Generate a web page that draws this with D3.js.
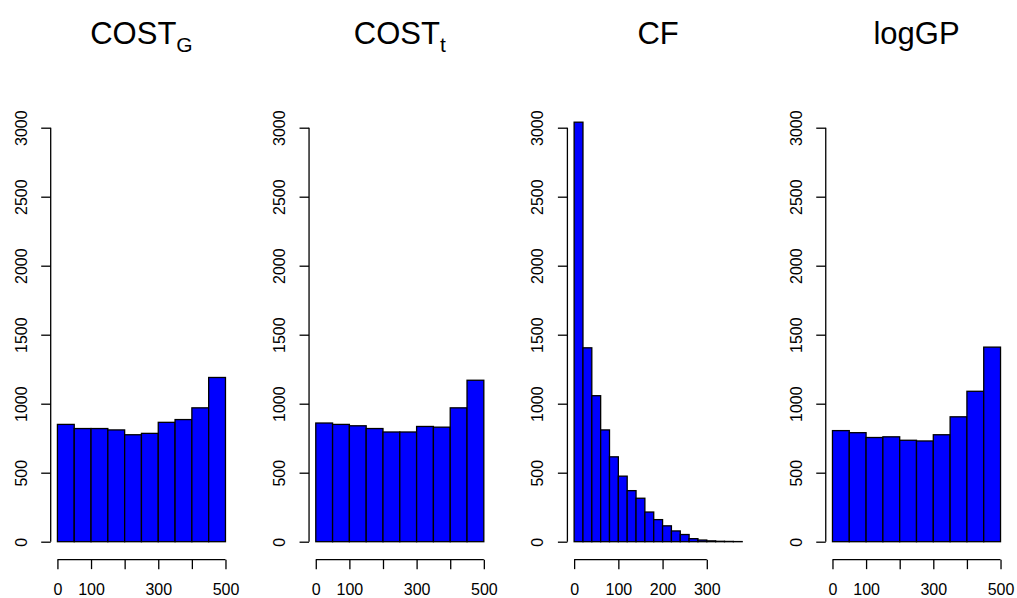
<!DOCTYPE html>
<html>
<head>
<meta charset="utf-8">
<script src="https://cdn.jsdelivr.net/npm/d3@7"></script>
<style>
  html, body { margin: 0; padding: 0; background: #fff; }
  svg { display: block; font-family: "Liberation Sans", Arial, Helvetica, sans-serif; }
</style>
</head>
<body>
<div id="chart"></div>
<script>
// histogram bin edges
const costBreaks = [0, 50, 100, 150, 200, 250, 300, 350, 400, 450, 500];
const cfBreaks = [0, 20, 40, 60, 80, 100, 120, 140, 160, 180, 200, 220, 240, 260, 280, 300, 320, 340, 360, 380];

// counts per bin
const costGCounts = [850, 820, 820, 810, 775, 785, 865, 885, 970, 1190];
const costTCounts = [860, 850, 840, 820, 795, 795, 835, 830, 970, 1170];
const cfCounts = [3040, 1405, 1058, 810, 615, 475, 370, 315, 215, 160, 115, 78, 52, 22, 12, 6, 3, 2, 1];
const logGPCounts = [805, 790, 755, 760, 735, 730, 775, 905, 1090, 1410];

// axis ticks
const costTicks = [0, 100, 200, 300, 400, 500];
const costTickLabels = ["0", "100", "", "300", "", "500"];
const cfTicks = [0, 100, 200, 300];
const cfTickLabels = ["0", "100", "200", "300"];
const yTicks = [0, 500, 1000, 1500, 2000, 2500, 3000];

const panels = [
  { title: "COST", sub: "G", breaks: costBreaks, counts: costGCounts, ticks: costTicks, labels: costTickLabels },
  { title: "COST", sub: "t", breaks: costBreaks, counts: costTCounts, ticks: costTicks, labels: costTickLabels },
  { title: "CF", sub: null, breaks: cfBreaks, counts: cfCounts, ticks: cfTicks, labels: cfTickLabels },
  { title: "logGP", sub: null, breaks: costBreaks, counts: logGPCounts, ticks: costTicks, labels: costTickLabels }
];

const width = 1017;
const height = 598;
const panelStep = 258.35;
const plotLeft0 = 50.7;
const plotWidth = 181.5;

const svg = d3.select("#chart").append("svg")
    .attr("width", width)
    .attr("height", height);

svg.append("rect").attr("width", width).attr("height", height).attr("fill", "#fff");

const y = d3.scaleLinear().domain([0, 3000]).range([541.7, 127.7]);
const axisY = y(-130);

panels.forEach((p, i) => {
  const left = plotLeft0 + i * panelStep;
  const lo = p.breaks[0], hi = p.breaks[p.breaks.length - 1];
  const pad = 0.04 * (hi - lo);
  const x = d3.scaleLinear().domain([lo - pad, hi + pad]).range([left, left + plotWidth]);

  const g = svg.append("g");

  // bars
  g.selectAll("rect.bar")
    .data(p.counts)
    .join("rect")
      .attr("class", "bar")
      .attr("x", (d, j) => x(p.breaks[j]))
      .attr("width", (d, j) => x(p.breaks[j + 1]) - x(p.breaks[j]))
      .attr("y", d => y(d))
      .attr("height", d => y(0) - y(d))
      .attr("fill", "#0000ff")
      .attr("stroke", "#000")
      .attr("stroke-width", 1.3);

  // x axis
  const xa = g.append("g")
      .attr("transform", `translate(0,${axisY})`)
      .call(d3.axisBottom(x).tickValues(p.ticks).tickSize(9.5).tickSizeOuter(0)
        .tickFormat((d, j) => p.labels[j]));
  xa.select(".domain").attr("d", `M${x(p.ticks[0])},0H${x(p.ticks[p.ticks.length - 1])}`);
  xa.selectAll("line, .domain").attr("stroke", "#000").attr("stroke-width", 1.3);
  xa.selectAll("text")
      .attr("y", 35.5).attr("dy", null)
      .attr("font-size", 16).attr("fill", "#000")
      .attr("font-family", "Liberation Sans, Arial, sans-serif");

  // y axis
  const ya = g.append("g")
      .attr("transform", `translate(${left},0)`)
      .call(d3.axisLeft(y).tickValues(yTicks).tickSize(9.5).tickSizeOuter(0).tickFormat(d3.format("d")));
  ya.select(".domain").attr("d", `M0,${y(0)}V${y(3000)}`);
  ya.selectAll("line, .domain").attr("stroke", "#000").attr("stroke-width", 1.3);
  ya.selectAll("text")
      .attr("x", null).attr("dy", null)
      .attr("text-anchor", "middle")
      .attr("transform", "translate(-24,0) rotate(-90)")
      .attr("font-size", 16).attr("fill", "#000")
      .attr("font-family", "Liberation Sans, Arial, sans-serif");

  // title
  const t = g.append("text")
      .attr("x", left + plotWidth / 2)
      .attr("y", 44)
      .attr("text-anchor", "middle")
      .attr("font-size", 31)
      .attr("fill", "#000");
  t.append("tspan").text(p.title);
  if (p.sub) {
    t.append("tspan").attr("font-size", 21).attr("dy", 7.7).text(p.sub);
  }
});
</script>
</body>
</html>
